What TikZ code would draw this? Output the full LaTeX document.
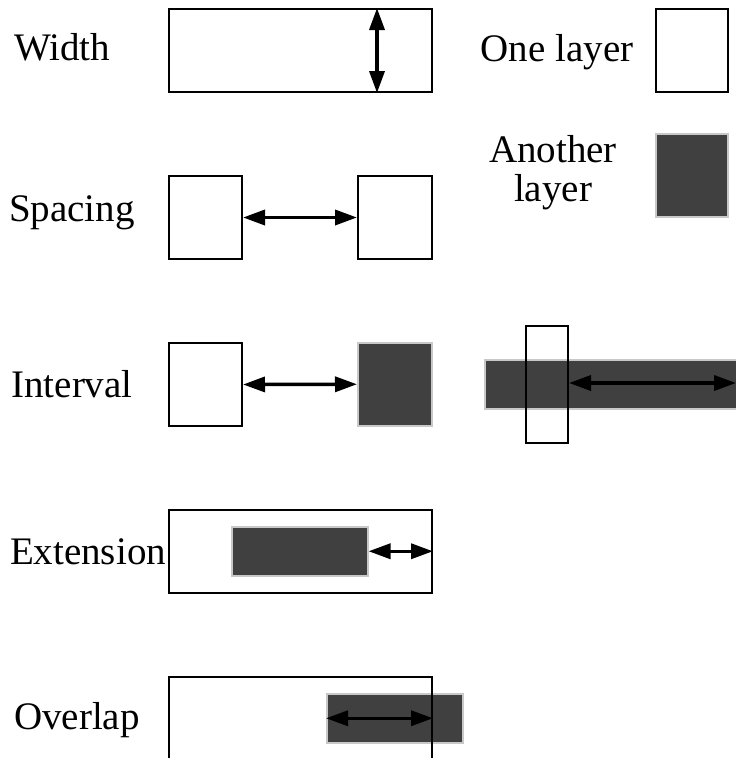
\documentclass[tikz,border=0pt]{standalone}
\usepackage{fontspec}
\setmainfont{Liberation Serif}
\usetikzlibrary{arrows.meta}
\definecolor{darkl}{HTML}{404040}
\definecolor{rimgray}{HTML}{C8C8C8}
\begin{document}
\begin{tikzpicture}[x=1pt,y=-1pt,
  wbox/.style={draw=black,line width=2pt,inner sep=0pt,anchor=north west},
  dbox/.style={fill=darkl,draw=rimgray,line width=1.5pt,inner sep=0pt,anchor=north west},
  dbl/.style={line width=3.5pt,{Triangle[length=22pt,width=15pt]}-{Triangle[length=22pt,width=15pt]}},
  lbl/.style={font=\fontsize{39}{39}\selectfont,inner sep=0pt,align=center}]
\clip (0,0) rectangle (736,758);
\fill[white] (0,0) rectangle (736,758);
% labels
\node[lbl] (lw) at (62,47) {Width};
\node[lbl] (ls) at (72,213) {Spacing};
\node[lbl] (li) at (72,384) {Interval};
\node[lbl] (le) at (88,552) {Extension};
\node[lbl] (lo) at (77,720) {Overlap};
\node[lbl] (l1) at (557,52) {One layer};
\node[lbl] (l2) at (553,173) {Another\\layer};
% width
\node[wbox,minimum width=263pt,minimum height=83pt] (w) at (168,8) {};
\coordinate (wa) at (377,0);
\draw[dbl] (w.north -| wa) -- (w.south -| wa);
% legend
\node[wbox,minimum width=72pt,minimum height=83pt] (one) at (655,8) {};
\node[dbox,minimum width=72pt,minimum height=83pt] (two) at (655,133) {};
% spacing
\node[wbox,minimum width=73pt,minimum height=83pt] (s1) at (168,175) {};
\node[wbox,minimum width=74pt,minimum height=83pt] (s2) at (357,175) {};
\draw[dbl] (s1.east) -- (s2.west);
% interval
\node[wbox,minimum width=73pt,minimum height=83pt] (i1) at (168,342) {};
\node[dbox,minimum width=74pt,minimum height=83pt] (i2) at (357,342) {};
\draw[dbl] (i1.east) -- (i2.west);
% right group
\node[dbox,minimum width=280pt,minimum height=49pt] (bar) at (484,359) {};
\node[wbox,minimum width=42pt,minimum height=117pt] (v) at (525,325) {};
\coordinate (re) at (736,383);
\draw[dbl] (v.east |- re) -- (re);
% extension
\node[wbox,minimum width=263pt,minimum height=83pt] (e1) at (168,509) {};
\node[dbox,minimum width=136pt,minimum height=49pt] (e2) at (231,526) {};
\draw[dbl] (e2.east) -- (e1.east |- e2.east);
% overlap
\node[dbox,minimum width=136pt,minimum height=49pt] (o2) at (326,693) {};
\node[wbox,minimum width=263pt,minimum height=100pt] (o1) at (168,676) {};
\draw[dbl] (o2.west) -- (o1.east |- o2.west);
\end{tikzpicture}
\end{document}
